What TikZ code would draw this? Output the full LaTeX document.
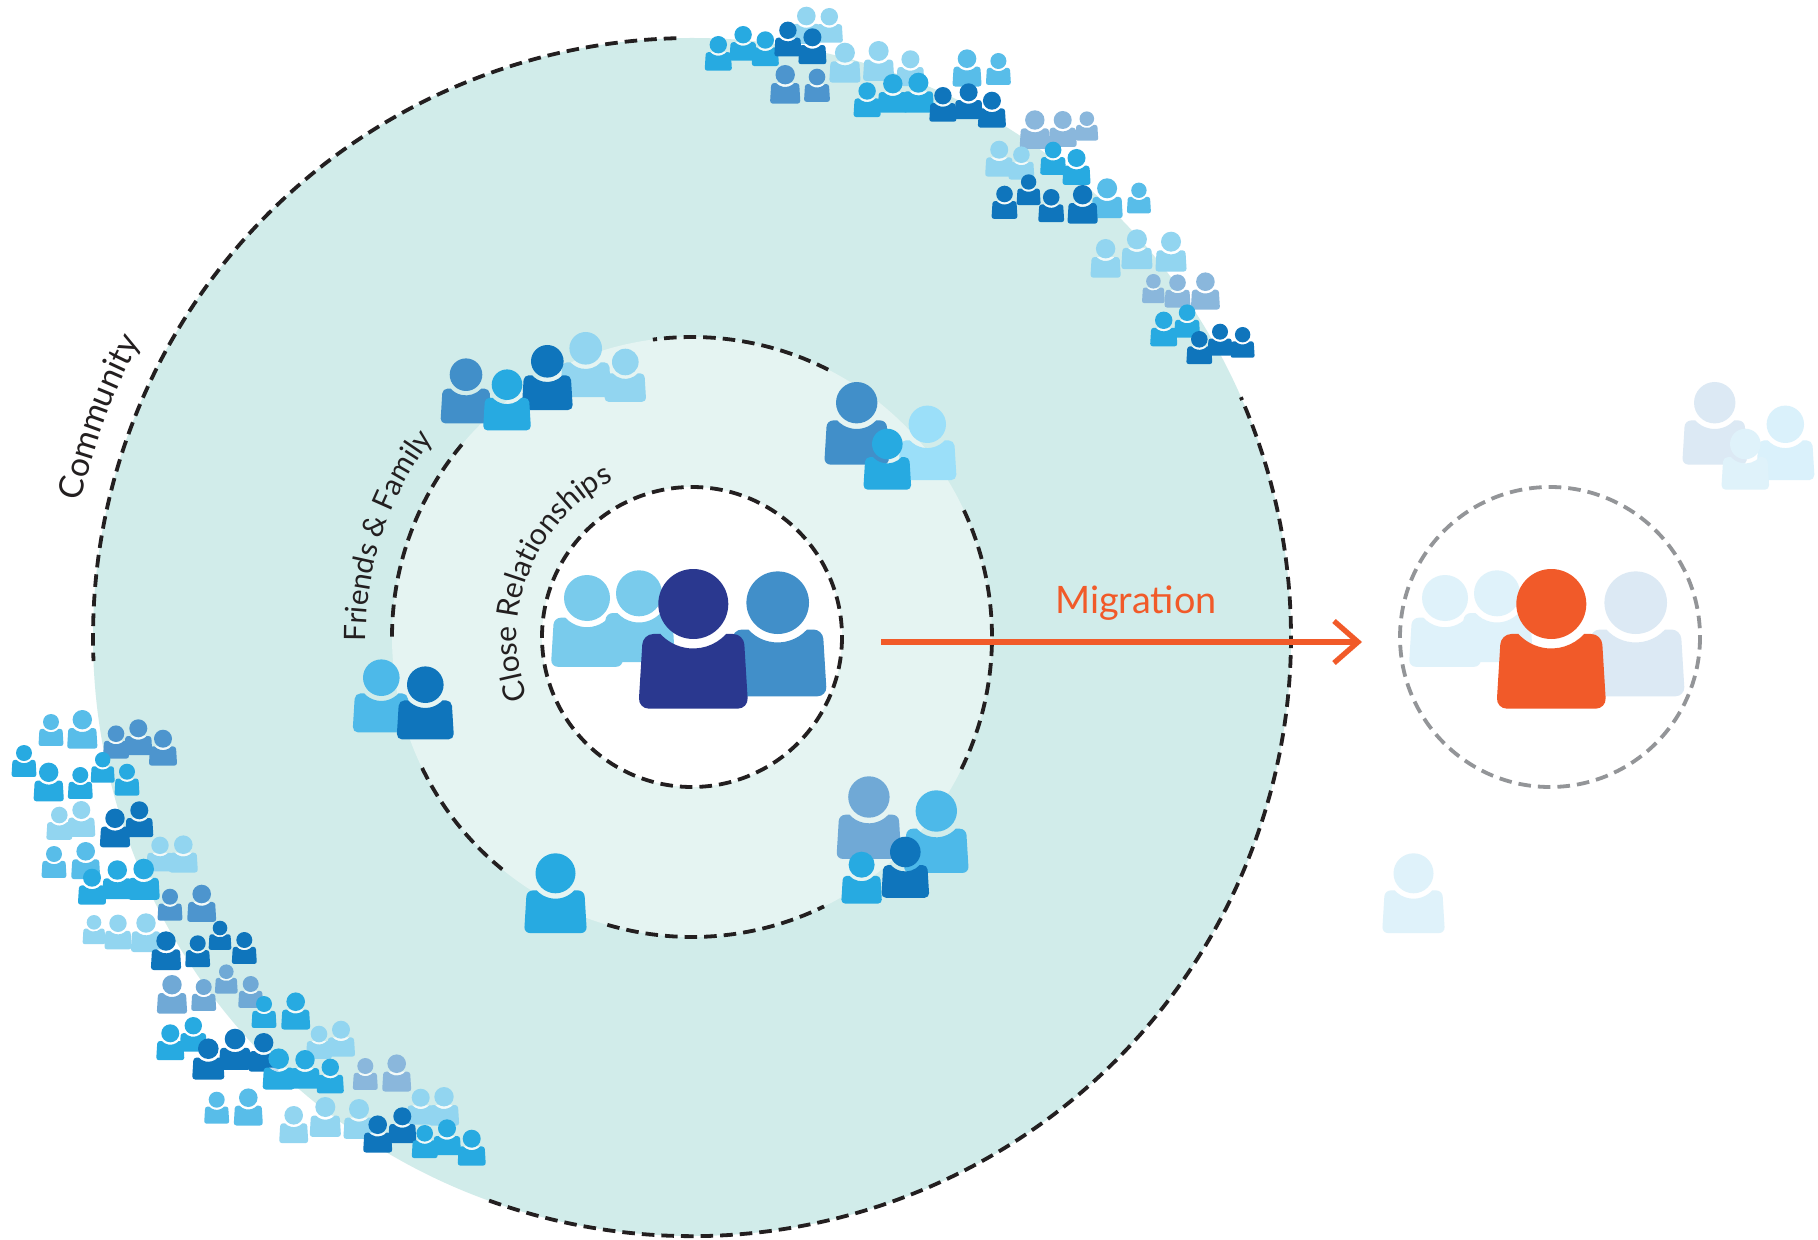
\documentclass[tikz,border=0pt]{standalone}
\usepackage{fontspec}
\setmainfont{Lato}
\usetikzlibrary{arrows.meta,decorations.text}
\definecolor{ink}{HTML}{231F20}
\definecolor{ringgrey}{HTML}{939598}
\definecolor{outerfill}{HTML}{D1ECEA}
\definecolor{midfill}{HTML}{E5F4F2}
\definecolor{orangered}{HTML}{F15A29}
\definecolor{navy}{HTML}{2A388F}
\definecolor{bright}{HTML}{27AAE1}
\definecolor{dark}{HTML}{0F75BC}
\definecolor{pale}{HTML}{92D5F0}
\definecolor{sky}{HTML}{58BDE9}
\definecolor{skyb}{HTML}{4DB9E9}
\definecolor{slate}{HTML}{8AB7DC}
\definecolor{slateb}{HTML}{70A9D6}
\definecolor{mid}{HTML}{4D95CE}
\definecolor{midb}{HTML}{418FC9}
\definecolor{paleb}{HTML}{9BDFF9}
\definecolor{light}{HTML}{79CBEC}
\definecolor{fadelight}{HTML}{DFF2FA}
\definecolor{fademid}{HTML}{DCE9F4}
\definecolor{fadepale}{HTML}{DAF1FB}
\def\ringop{0}
\newcommand{\persona}[4]{%
  \pgfmathsetlengthmacro\pcorner{#3*0.15pt}%
  \begin{scope}[shift={(#1,#2)},scale=#3]
    \fill[white,opacity=\ringop] (0.937,0.857) arc[start angle=42.4,end angle=137.6,radius=1.27] -- cycle;
    \fill[#4] (-0.937,0.857) [rounded corners=\pcorner] -- (-1.44,0.857) -- (-1.57,2.99) -- (1.57,2.99) -- (1.44,0.857)
      [sharp corners] -- (0.937,0.857) arc[start angle=42.4,end angle=137.6,radius=1.27] -- cycle;
    \fill[#4] (0,0) circle[radius=1];
  \end{scope}}
\newcommand{\ringarc}[4]{%
  \draw[#1] ([shift={(-#3:#2)}]hub) arc[start angle=-#3,end angle=-#4,radius=#2];}
\newcommand{\labelfont}[1]{\fontsize{#1pt}{20pt}\selectfont\color{ink}}
\tikzset{
  dashring/.style={draw=ink,line width=1.9pt,dash pattern=on 6.3pt off 3.5pt},
  dashgrey/.style={draw=ringgrey,line width=1.9pt,dash pattern=on 6.3pt off 3.5pt},
  migrate/.style={draw=orangered,line width=2.65pt,-{Straight Barb[length=12pt,width=21pt]}},
}
\begin{document}
\begin{tikzpicture}[x=0.5pt,y=-0.5pt]
\useasboundingbox (0,0) rectangle (1818,1240);
\fill[white] (0,0) rectangle (1818,1240);
\coordinate (hub) at (692,637);
\coordinate (hubb) at (1550,637);
\fill[outerfill] (hub) circle[radius=599];
\fill[midfill] (hub) circle[radius=300];
\fill[white] (hub) circle[radius=150];
% dashed rings
\ringarc{dashring}{599}{91.5}{182.3}
\ringarc{dashring}{599}{250.2}{383.6}
\ringarc{dashring}{300}{63}{97.5}
\ringarc{dashring}{300}{140.1}{180}
\ringarc{dashring}{300}{205.9}{232.1}
\ringarc{dashring}{300}{253.6}{296.1}
\ringarc{dashring}{300}{333.9}{385.5}
\draw[dashring] (hub) circle[radius=150];
\draw[dashgrey] (hubb) circle[radius=150];
% curved labels
\path[decorate,decoration={text along path,text={|\labelfont{16.8}|Community}}]
  ([shift={(-167.5:626)}]hub) arc[start angle=-167.5,end angle=-145,radius=626];
\path[decorate,decoration={text along path,text={|\labelfont{14.8}|Friends {\&} Family}}]
  ([shift={(-180.8:326)}]hub) arc[start angle=-180.8,end angle=-130,radius=326];
\path[decorate,decoration={text along path,text={|\labelfont{15}|Close Relationships}}]
  ([shift={(-200.4:175)}]hub) arc[start angle=-200.4,end angle=-95,radius=175];
% migration
\coordinate (migfrom) at (881,642);
\coordinate (migto) at (1362,642);
\draw[migrate] (migfrom) -- (migto);
\node[anchor=base,text=orangered,font=\fontsize{18.9pt}{22pt}\selectfont,inner sep=0pt] (miglabel) at (1136,613) {Migration};
% centre group
\persona{639}{593.3}{23}{light}
\persona{587}{598}{23}{light}
\persona{777.7}{602.7}{31.3}{midb}
\persona{693.3}{604}{35}{navy}
% friends and family
\persona{585.7}{348.3}{16.3}{pale}
\persona{625.3}{362}{13.3}{pale}
\persona{466}{374.7}{16.3}{midb}
\persona{547.3}{361.3}{16.3}{dark}
\persona{507}{384.7}{15.3}{bright}
\persona{381.3}{677.7}{18.3}{skyb}
\persona{425.3}{684.7}{18.3}{dark}
\persona{927.3}{424.3}{18.7}{paleb}
\persona{856.7}{402.7}{20.7}{midb}
\persona{887.3}{444}{15.3}{bright}
\persona{936.3}{811}{20.7}{skyb}
\persona{868.9}{797}{20.7}{slateb}
\persona{905.3}{852}{15.3}{dark}
\persona{861.6}{864.7}{13}{bright}
\persona{555.5}{873.3}{20}{bright}
\def\ringop{0.75}
% community, top right
\persona{806.3}{16}{9.3}{pale}
\persona{829.3}{16.7}{8.7}{pale}
\persona{743.1}{34.7}{8.7}{bright}
\persona{718.3}{44.7}{8.7}{bright}
\persona{765.3}{40}{8.7}{bright}
\persona{787.9}{30.3}{8.7}{dark}
\persona{812.4}{37.3}{9}{dark}
\persona{785.2}{74.7}{9.7}{mid}
\persona{817}{77}{8.3}{mid}
\persona{844.9}{52.7}{10}{pale}
\persona{910.4}{59.3}{9}{pale}
\persona{878.6}{51}{10}{pale}
\persona{892.8}{83.7}{9.7}{bright}
\persona{918.4}{82.7}{10}{bright}
\persona{867.1}{91}{8.7}{bright}
\persona{967}{58.7}{9.3}{sky}
\persona{998.4}{61}{8}{sky}
\persona{968.6}{92.3}{9}{dark}
\persona{942.9}{95.7}{8.7}{dark}
\persona{991.9}{100.7}{9}{dark}
\persona{1086.8}{118.7}{7.3}{slate}
\persona{1034.8}{120}{9.7}{slate}
\persona{1062.7}{120}{9}{slate}
\persona{1021.4}{154.7}{8.3}{pale}
\persona{999.2}{149.7}{9}{pale}
\persona{1053.1}{150}{8.3}{bright}
\persona{1076.5}{158}{9}{bright}
\persona{1107.1}{188.3}{10}{sky}
\persona{1138.9}{190.3}{7.7}{sky}
\persona{1028.6}{182}{7.7}{dark}
\persona{1004.5}{194}{8.3}{dark}
\persona{1051.2}{197.3}{8.3}{dark}
\persona{1082.6}{194.7}{9.7}{dark}
\persona{1136.9}{239.3}{10}{pale}
\persona{1171}{241.7}{10}{pale}
\persona{1105.6}{248.7}{9.7}{pale}
\persona{1153.4}{281.3}{7.3}{slate}
\persona{1205.4}{281.7}{9.3}{slate}
\persona{1177.5}{282.7}{8.3}{slate}
\persona{1187.1}{312.7}{8.3}{bright}
\persona{1163.7}{320.3}{8.7}{bright}
\persona{1242.6}{334.7}{7.7}{dark}
\persona{1220}{331.7}{8}{dark}
\persona{1199.3}{339.3}{8.3}{dark}
% community, lower left
\persona{51}{722}{8}{sky}
\persona{82.3}{719.7}{9.7}{sky}
\persona{116}{733.7}{8.3}{mid}
\persona{138.3}{728.3}{9}{mid}
\persona{163}{738.7}{9}{mid}
\persona{24}{753}{8}{bright}
\persona{48.7}{772.3}{9.7}{bright}
\persona{80.3}{775}{8}{bright}
\persona{102.7}{759.7}{7.7}{bright}
\persona{127}{771.7}{8}{bright}
\persona{81.3}{810}{9}{pale}
\persona{59.3}{815}{8.3}{pale}
\persona{139.3}{810.3}{9}{dark}
\persona{115}{818.3}{9.7}{dark}
\persona{160}{845.3}{8.7}{pale}
\persona{183.3}{844.7}{9.3}{pale}
\persona{54}{854}{8}{sky}
\persona{85.7}{851.3}{9.3}{sky}
\persona{92}{877.7}{9}{bright}
\persona{117.3}{870}{9.7}{bright}
\persona{143.7}{869}{10.3}{bright}
\persona{170}{896.7}{8}{mid}
\persona{201.7}{894}{9.3}{mid}
\persona{94}{922.3}{7.3}{pale}
\persona{118}{923.3}{8.7}{pale}
\persona{146}{923}{9.7}{pale}
\persona{166}{941}{9.7}{dark}
\persona{197.7}{943.3}{8}{dark}
\persona{220}{928}{7.3}{dark}
\persona{244.3}{940}{8}{dark}
\persona{172}{984.7}{9.7}{slateb}
\persona{203.7}{987}{8}{slateb}
\persona{226.3}{971.7}{7.3}{slateb}
\persona{250.7}{984}{8}{slateb}
\persona{264}{1004}{8}{bright}
\persona{295.7}{1001.7}{9.3}{bright}
\persona{341}{1029.7}{9}{pale}
\persona{319}{1034}{8.3}{pale}
\persona{193.3}{1025.7}{8.7}{bright}
\persona{170.3}{1033.3}{9}{bright}
\persona{263.7}{1042.7}{9.7}{dark}
\persona{235}{1039}{10.3}{dark}
\persona{208.3}{1048.7}{10.3}{dark}
\persona{278.7}{1058.7}{10.3}{bright}
\persona{305}{1059.7}{9.7}{bright}
\persona{330.3}{1067.3}{8.7}{bright}
\persona{365.3}{1066}{8}{slate}
\persona{396.7}{1063.7}{9.3}{slate}
\persona{216.7}{1099.7}{8}{sky}
\persona{248.3}{1097.7}{9.3}{sky}
\persona{293.7}{1115.3}{9.3}{pale}
\persona{325.3}{1107}{10}{pale}
\persona{359}{1109}{10}{pale}
\persona{420.7}{1097.7}{9}{pale}
\persona{444}{1096.7}{9.7}{pale}
\persona{402.3}{1116.3}{9}{dark}
\persona{377.7}{1124.7}{9.3}{dark}
\persona{447}{1128.3}{9}{bright}
\persona{424.7}{1133.3}{8.3}{bright}
\persona{471.7}{1138.7}{9}{bright}
\def\ringop{0}
% the group after migration
\begin{scope}[shift={(858,0)}]
\persona{639}{593.3}{23}{fadelight}
\persona{587}{598}{23}{fadelight}
\persona{777.7}{602.7}{31.3}{fademid}
\persona{693.3}{604}{35}{orangered}
\persona{927.3}{424.3}{18.7}{fadepale}
\persona{856.7}{402.7}{20.7}{fademid}
\persona{887.3}{444}{15.3}{fadelight}
\persona{555.5}{873.3}{20}{fadelight}
\end{scope}
\end{tikzpicture}
\end{document}
